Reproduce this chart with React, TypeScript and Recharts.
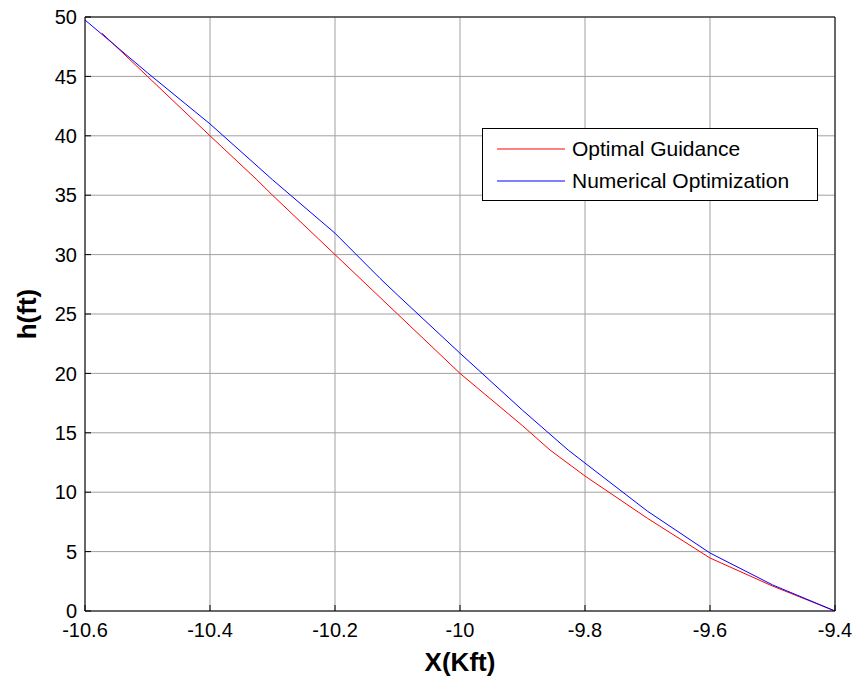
import { CartesianGrid, Label, Legend, Line, LineChart, XAxis, YAxis } from 'recharts';

const xTicks = [-10.6, -10.4, -10.2, -10, -9.8, -9.6, -9.4];
const yTicks = [0, 5, 10, 15, 20, 25, 30, 35, 40, 45, 50];

// Optimal Guidance (red)
const guidanceX = [-10.573, -10.5, -10.4, -10.325, -10.3, -10.2, -10.128, -10.1, -10.0, -9.9, -9.856, -9.8, -9.7, -9.6, -9.5, -9.4];
const guidanceH = [48.65, 45.0, 40.0, 36.3, 35.0, 30.0, 26.4, 25.0, 20.0, 15.6, 13.55, 11.36, 7.8, 4.46, 2.1, 0];

// Numerical Optimization (blue)
const numericX = [-10.6, -10.5, -10.4, -10.3, -10.2, -10.128, -10.1, -10.0, -9.9, -9.827, -9.8, -9.7, -9.6, -9.5, -9.4];
const numericH = [49.75, 45.3, 41.0, 36.3, 31.8, 28.0, 26.6, 21.7, 16.9, 13.55, 12.45, 8.4, 4.88, 2.2, 0];

const guidance = guidanceX.map((x, i) => ({ x, h: guidanceH[i] }));
const numeric = numericX.map((x, i) => ({ x, h: numericH[i] }));

const FONT = '"Liberation Sans", Arial, sans-serif';
const tickStyle = { fontSize: 20, fill: '#000', fontFamily: FONT };

const legendItems = [
    { name: 'Optimal Guidance', color: '#ff0000', top: 20 },
    { name: 'Numerical Optimization', color: '#0000ff', top: 52 },
];

const LegendBox = () => (
    <div
        style={{
            border: '1.5px solid #000',
            background: '#fff',
            width: 334,
            height: 71,
            fontFamily: FONT,
            fontSize: 21,
            color: '#000',
            position: 'relative',
            boxSizing: 'content-box',
        }}
    >
        {legendItems.map((item) => (
            <div key={item.name} style={{ position: 'absolute', left: 0, top: item.top - 12, height: 24, display: 'flex', alignItems: 'center' }}>
                <svg width={82} height={4} style={{ display: 'block' }}>
                    <line x1={14} y1={2} x2={82} y2={2} stroke={item.color} strokeWidth={1} />
                </svg>
                <span style={{ marginLeft: 7, whiteSpace: 'nowrap', lineHeight: '24px' }}>{item.name}</span>
            </div>
        ))}
    </div>
);

export default function App() {
    return (
        <div style={{ position: 'absolute', left: 0, top: 0, background: '#fff' }}>
            <LineChart width={857} height={681} margin={{ top: 7, right: 12, bottom: 10, left: 25 }}>
                <CartesianGrid xAxisId="b" yAxisId="l" stroke="#a0a0a0" strokeWidth={1} />
                <XAxis
                    xAxisId="b"
                    dataKey="x"
                    type="number"
                    domain={[-10.6, -9.4]}
                    ticks={xTicks}
                    allowDataOverflow
                    height={60}
                    stroke="#000"
                    tick={tickStyle}
                    tickSize={-6}
                    tickMargin={18}
                    tickFormatter={(v: number) => String(Number(v.toFixed(1)))}
                >
                    <Label value="X(Kft)" position="center" dy={21} style={{ fontSize: 26, fontWeight: 'bold', fill: '#000', fontFamily: FONT }} />
                </XAxis>
                <XAxis
                    xAxisId="t"
                    orientation="top"
                    dataKey="x"
                    type="number"
                    domain={[-10.6, -9.4]}
                    ticks={xTicks}
                    allowDataOverflow
                    height={10}
                    stroke="#000"
                    tick={false}
                    tickSize={-6}
                />
                <YAxis
                    yAxisId="l"
                    type="number"
                    domain={[0, 50]}
                    ticks={yTicks}
                    allowDataOverflow
                    width={60}
                    stroke="#000"
                    tick={tickStyle}
                    tickSize={-6}
                    tickMargin={14}
                >
                    <Label value="h(ft)" angle={-90} position="center" dx={-28} style={{ fontSize: 26, fontWeight: 'bold', fill: '#000', fontFamily: FONT }} />
                </YAxis>
                <YAxis
                    yAxisId="r"
                    orientation="right"
                    type="number"
                    domain={[0, 50]}
                    ticks={yTicks}
                    allowDataOverflow
                    width={10}
                    stroke="#000"
                    tick={false}
                    tickSize={-6}
                />
                <Legend
                    content={<LegendBox />}
                    layout="vertical"
                    align="center"
                    verticalAlign="middle"
                    wrapperStyle={{ left: 482, top: 128, width: 336, height: 73 }}
                />
                <Line
                    xAxisId="b"
                    yAxisId="l"
                    data={guidance}
                    dataKey="h"
                    name="Optimal Guidance"
                    type="linear"
                    stroke="#ff0000"
                    strokeWidth={1}
                    dot={false}
                    isAnimationActive={false}
                />
                <Line
                    xAxisId="b"
                    yAxisId="l"
                    data={numeric}
                    dataKey="h"
                    name="Numerical Optimization"
                    type="linear"
                    stroke="#0000ff"
                    strokeWidth={1}
                    dot={false}
                    isAnimationActive={false}
                />
            </LineChart>
        </div>
    );
}
